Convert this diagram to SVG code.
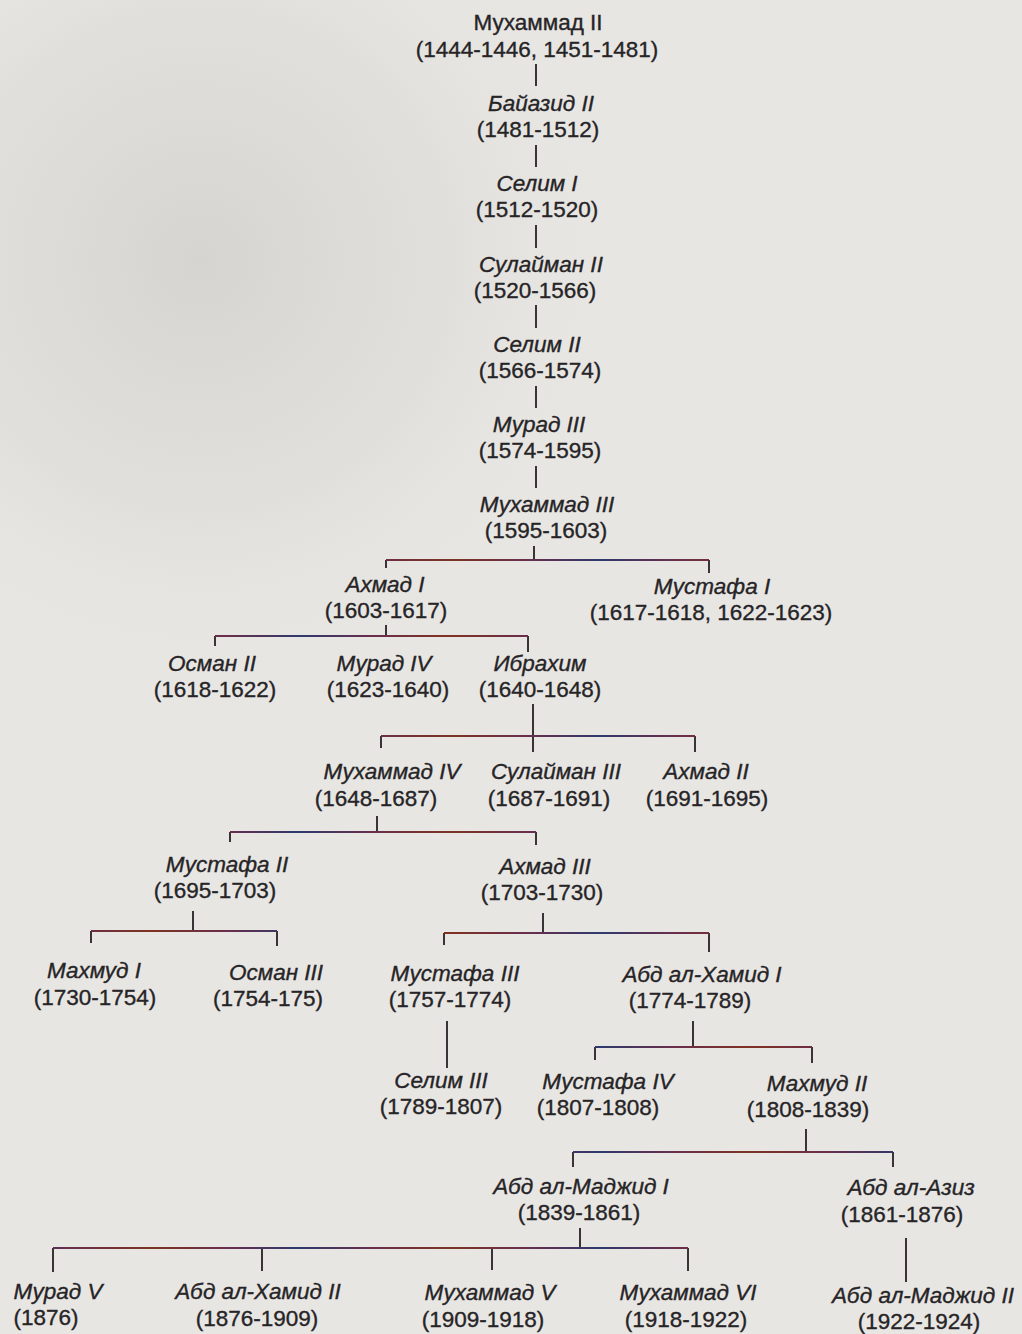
<svg xmlns="http://www.w3.org/2000/svg" width="1022" height="1334" viewBox="0 0 1022 1334">
<defs>
<linearGradient id="ink" gradientUnits="userSpaceOnUse" x1="0" y1="0" x2="150" y2="0" spreadMethod="reflect">
<stop offset="0" stop-color="#2f3a6e"/>
<stop offset="0.5" stop-color="#6a2e4a"/>
<stop offset="1" stop-color="#7f3322"/>
</linearGradient>
<radialGradient id="shade" gradientUnits="userSpaceOnUse" cx="200" cy="260" r="420">
<stop offset="0" stop-color="#d6d4d1"/>
<stop offset="0.6" stop-color="#dddbd8" stop-opacity="0.6"/>
<stop offset="1" stop-color="#e8e6e3" stop-opacity="0"/>
</radialGradient>
<style>
.n{font-family:"Liberation Sans",Arial,sans-serif;font-size:22.5px;font-style:italic;fill:#262426;stroke:#262426;stroke-width:0.35;text-anchor:middle}
.u{font-style:normal}
.y{font-family:"Liberation Sans",Arial,sans-serif;font-size:22.5px;fill:#262426;stroke:#262426;stroke-width:0.35;text-anchor:middle}
.c{fill:none;stroke:url(#ink);stroke-width:2.2}
.v{fill:none;stroke:#3a3438;stroke-width:2}
</style>
</defs>
<rect width="1022" height="1334" fill="#e8e6e3"/>
<rect width="1022" height="1334" fill="url(#shade)"/>

<g id="connectors">
<path class="v" d="M536 64V86M536 145V167M536 225V248M536 305V328M536 386V408M536 466V488"/>
<path class="v" d="M534 546V560M386 560V568M709 560V573"/>
<path class="c" d="M386 560H709"/>
<path class="v" d="M386 625V636M215 636V646M528 636V652"/>
<path class="c" d="M215 636H528"/>
<path class="v" d="M533 704V752M381 736V748M695 736V752"/>
<path class="c" d="M381 736H695"/>
<path class="v" d="M377 816V832M230 832V842M536 832V845"/>
<path class="c" d="M230 832H536"/>
<path class="v" d="M193 911V931M91 931V943M277 931V946"/>
<path class="c" d="M91 931H277"/>
<path class="v" d="M543 913V933M444 933V945M709 933V952"/>
<path class="c" d="M444 933H709"/>
<path class="v" d="M447 1021V1068"/>
<path class="v" d="M693 1021V1047M595 1047V1060M812 1047V1063"/>
<path class="c" d="M595 1047H812"/>
<path class="v" d="M806 1129V1152M573 1152V1167M893 1152V1167"/>
<path class="c" d="M573 1152H893"/>
<path class="v" d="M580 1228V1248M53 1248V1272M262 1248V1271M492 1248V1270M688 1248V1271"/>
<path class="c" d="M53 1248H688"/>
<path class="v" d="M906 1238V1282"/>
</g>

<g id="mehmed2"><text class="n u" x="538" y="30">Мухаммад II</text><text class="y" x="537" y="57">(1444-1446, 1451-1481)</text></g>
<g id="bayezid2"><text class="n" x="541" y="111">Байазид II</text><text class="y" x="538" y="137">(1481-1512)</text></g>
<g id="selim1"><text class="n" x="537" y="191">Селим I</text><text class="y" x="537" y="217">(1512-1520)</text></g>
<g id="suleiman2"><text class="n" x="541" y="272">Сулайман II</text><text class="y" x="535" y="298">(1520-1566)</text></g>
<g id="selim2"><text class="n" x="537" y="352">Селим II</text><text class="y" x="540" y="378">(1566-1574)</text></g>
<g id="murad3"><text class="n" x="539" y="432">Мурад III</text><text class="y" x="540" y="458">(1574-1595)</text></g>
<g id="mehmed3"><text class="n" x="547" y="512">Мухаммад III</text><text class="y" x="546" y="538">(1595-1603)</text></g>

<g id="ahmed1"><text class="n" x="385" y="592">Ахмад I</text><text class="y" x="386" y="618">(1603-1617)</text></g>
<g id="mustafa1"><text class="n" x="712" y="594">Мустафа I</text><text class="y" x="711" y="620">(1617-1618, 1622-1623)</text></g>

<g id="osman2"><text class="n" x="212" y="671">Осман II</text><text class="y" x="215" y="697">(1618-1622)</text></g>
<g id="murad4"><text class="n" x="384" y="671">Мурад IV</text><text class="y" x="388" y="697">(1623-1640)</text></g>
<g id="ibrahim"><text class="n" x="540" y="671">Ибрахим</text><text class="y" x="540" y="697">(1640-1648)</text></g>

<g id="mehmed4"><text class="n" x="392" y="779">Мухаммад IV</text><text class="y" x="376" y="806">(1648-1687)</text></g>
<g id="suleiman3"><text class="n" x="556" y="779">Сулайман III</text><text class="y" x="549" y="806">(1687-1691)</text></g>
<g id="ahmed2"><text class="n" x="706" y="779">Ахмад II</text><text class="y" x="707" y="806">(1691-1695)</text></g>

<g id="mustafa2"><text class="n" x="227" y="872">Мустафа II</text><text class="y" x="215" y="898">(1695-1703)</text></g>
<g id="ahmed3"><text class="n" x="545" y="874">Ахмад III</text><text class="y" x="542" y="900">(1703-1730)</text></g>

<g id="mahmud1"><text class="n" x="94" y="978">Махмуд I</text><text class="y" x="95" y="1005">(1730-1754)</text></g>
<g id="osman3"><text class="n" x="276" y="980">Осман III</text><text class="y" x="268" y="1006">(1754-175)</text></g>
<g id="mustafa3"><text class="n" x="455" y="981">Мустафа III</text><text class="y" x="450" y="1007">(1757-1774)</text></g>
<g id="abdulhamid1"><text class="n" x="702" y="982">Абд ал-Хамид I</text><text class="y" x="690" y="1008">(1774-1789)</text></g>

<g id="selim3"><text class="n" x="441" y="1088">Селим III</text><text class="y" x="441" y="1114">(1789-1807)</text></g>
<g id="mustafa4"><text class="n" x="608" y="1089">Мустафа IV</text><text class="y" x="598" y="1115">(1807-1808)</text></g>
<g id="mahmud2"><text class="n" x="817" y="1091">Махмуд II</text><text class="y" x="808" y="1117">(1808-1839)</text></g>

<g id="abdulmejid1"><text class="n" x="581" y="1194">Абд ал-Маджид I</text><text class="y" x="579" y="1220">(1839-1861)</text></g>
<g id="abdulaziz"><text class="n" x="911" y="1195">Абд ал-Азиз</text><text class="y" x="902" y="1222">(1861-1876)</text></g>

<g id="murad5"><text class="n" x="58" y="1299">Мурад V</text><text class="y" x="46" y="1325">(1876)</text></g>
<g id="abdulhamid2"><text class="n" x="258" y="1299">Абд ал-Хамид II</text><text class="y" x="257" y="1326">(1876-1909)</text></g>
<g id="mehmed5"><text class="n" x="490" y="1300">Мухаммад  V</text><text class="y" x="483" y="1327">(1909-1918)</text></g>
<g id="mehmed6"><text class="n" x="688" y="1300">Мухаммад VI</text><text class="y" x="686" y="1327">(1918-1922)</text></g>
<g id="abdulmejid2"><text class="n" x="923" y="1303">Абд ал-Маджид II</text><text class="y" x="919" y="1329">(1922-1924)</text></g>
</svg>
